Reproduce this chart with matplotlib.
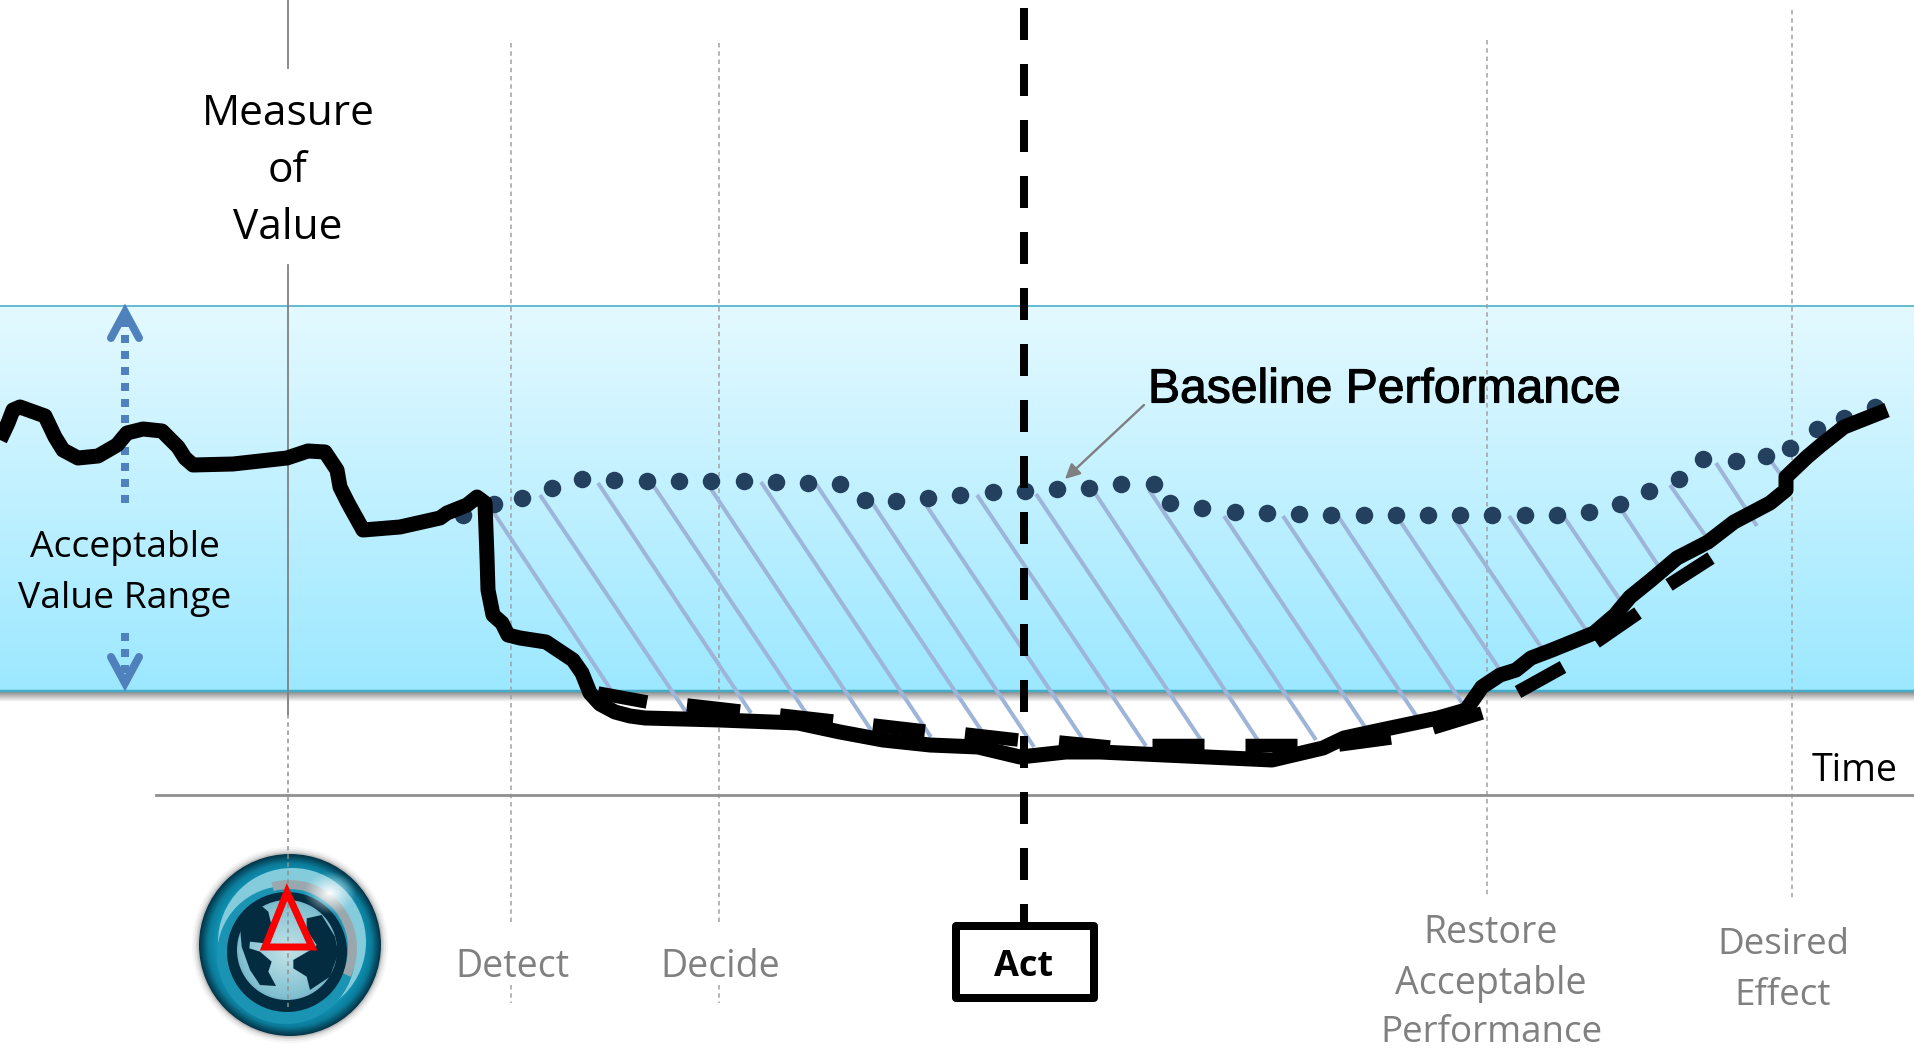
import numpy as np
import matplotlib
matplotlib.use("Agg")
import matplotlib.pyplot as plt
import matplotlib.patheffects as pe
from matplotlib.patches import Circle, Polygon, Rectangle, Wedge

# In the chart's own 1915 x 1050 plotting units
curve_x = [0,8,13,20,45,55,63,78,98,117,127,143,162,178,185,193,233,287,308,325,337,340,348,363,400,440,447,467,477,485,
           487,488,493,502,508,520,546,573,582,590,600,615,630,645,720,798,840,883,930,978,1020,1066,1100,1272,1323,1344,1381,1438,1466,1482,
           1500,1516,1531,1552,1594,1615,1630,1651,1677,1708,1734,1770,1786,1786,1807,1820,1844,1887]
curve_y = [440,423,410,407,416,437,450,458,456,445,433,429,431,447,458,465,464,458,451,452,470,487,503,530,527,518,513,505,497,503,
           557,590,615,623,635,638,642,660,673,693,704,712,716,718,720,723,732,740,745,747,757,752,752,760,748,738,730,718,710,687,
           675,670,658,650,633,615,597,580,558,542,522,503,490,477,457,446,427,410]
base_x = [463,494,522,552,582,614,647,679,711,744,776,808,840,865,896,928,960,993,1025,1057,1089,1121,1154,1170,1202,1235,
          1267,1299,1331,1364,1396,1428,1460,1492,1525,1557,1589,1620,1649,1679,1703,1736,1766,1790,1817,1844,1875]
base_y = [515,504,498,488,479,480,481,481,481,481,482,483,484,500,501,498,495,492,491,489,488,484,484,503,508,512,
          513,514,515,515,515,515,515,515,515,515,512,504,491,479,459,461,456,448,429,418,407]
proj_x0 = [598,687,780,873,965,1059,1152,1245,1339,1433,1518,1596,1669]
proj_y0 = [693,705,715,725,734,742,745,745,745,728,692,642,585]
proj_x1 = [647,740,833,925,1018,1110,1204,1297,1391,1482,1563,1638,1711]
proj_y1 = [702,711,721,731,740,747,745,745,738,713,667,613,558]
gap_x0 = [490,540,598,653,707,761,816,869,922,977,1036,1093,1149,1224,1283,1338,1396,1454,1509,1564,1619,1670,1716,1768]
gap_y0 = [507,495,483,485,483,482,484,498,499,495,494,490,490,516,516,516,515,518,516,517,506,485,463,457]
gap_x1 = [613,686,751,806,871,931,981,1034,1082,1146,1203,1259,1316,1365,1417,1464,1500,1543,1586,1620,1659,1707,1757,1781]
gap_y1 = [693,712,713,713,730,737,730,747,738,746,743,742,740,727,717,706,670,650,630,600,567,538,526,475]
band_top, band_bottom = 306, 691
stage_x = [511, 719, 1487, 1792]
stage_top = [43, 43, 40, 10]
stage_bottom = [925, 925, 895, 900]
axis_x, act_x, time_y = 288, 1024, 795
continent_left = [(335,258),(355,275),(362,305),(375,330),(345,370),(300,365),(298,385),(330,395),(365,425),(355,455),
                  (378,498),(330,495),(300,450),(275,380),(270,320),(290,285)]
continent_right = [(470,295),(515,285),(555,350),(565,400),(540,470),(480,510),(470,470),(430,445),(430,420),(490,385),(500,375),(470,330)]
red_tri = [(287,892),(265,947),(312,947)]

def px(v):
    return v * 0.72

plt.rcParams['font.family'] = ['Open Sans', 'DejaVu Sans']
fig = plt.figure(figsize=(19.15, 10.5), dpi=100)
ax = fig.add_axes([0, 0, 1, 1])
ax.set_xlim(0, 1915)
ax.set_ylim(1050, 0)
ax.axis('off')

# Band with gradient and shadow
grad = np.linspace(0, 1, 256)[:, None, None]
top_c = np.array([0xe4, 0xf9, 0xff]) / 255
bot_c = np.array([0x9c, 0xe8, 0xff]) / 255
ax.imshow(top_c + (bot_c - top_c) * grad, extent=[0, 1915, band_bottom, band_top], aspect='auto', zorder=1)
sh = np.ones((32, 1, 4)); sh[..., :3] = 0.35
sh[..., 3] = np.linspace(0.75, 0, 32)[:, None]
ax.imshow(sh, extent=[0, 1915, band_bottom + 11, band_bottom], aspect='auto', zorder=1)
ax.set_xlim(0, 1915); ax.set_ylim(1050, 0)
ax.plot([0, 1915], [band_top, band_top], color='#45acc8', lw=px(1.6), zorder=2)
ax.plot([0, 1915], [band_bottom, band_bottom], color='#45acc8', lw=px(2.5), zorder=2)

# Stage guides
for x, t_, b in zip(stage_x, stage_top, stage_bottom):
    ax.plot([x, x], [t_, b], color='#a0a0a0', lw=px(1.5), ls=(0, (3, 2.5)), zorder=3)
for x in stage_x[:2]:
    ax.plot([x, x], [985, 1003], color='#a0a0a0', lw=px(1.5), ls=(0, (3, 2.5)), zorder=3)
ax.plot([axis_x, axis_x], [0, 68], color='#808080', lw=px(1.8), zorder=3)
ax.plot([axis_x, axis_x], [265, 714], color='#808080', lw=px(1.8), zorder=3)
ax.plot([156, 1915], [time_y, time_y], color='#8f8f8f', lw=px(2.8), zorder=3)

# Gap hatch
for a, b, c, d in zip(gap_x0, gap_y0, gap_x1, gap_y1):
    ax.plot([a, c], [b, d], color='#9db5d8', lw=px(4), solid_capstyle='butt', zorder=4)

# Baseline dots
ax.plot(base_x, base_y, ls='none', marker='o', ms=px(17.5), mfc='#24405f', mec='none', zorder=5)

# Projected recovery
for a, b, c, d in zip(proj_x0, proj_y0, proj_x1, proj_y1):
    ax.plot([a, c], [b, d], color='black', lw=px(13.5), solid_capstyle='butt', zorder=6)

# Measured value
ax.plot(curve_x, curve_y, color='black', lw=px(15), solid_joinstyle='round', solid_capstyle='butt', zorder=7)

# Act line and box
ax.plot([act_x, act_x], [8, 925], color='black', lw=px(8), dashes=(4, 3), dash_capstyle='butt', zorder=8)
ax.add_patch(Rectangle((956, 926), 138, 72, fc='white', ec='black', lw=px(8), joinstyle='round', zorder=9))

# Range arrows
ac = '#4f81bd'
ax.plot([125, 125], [503, 320], color=ac, lw=px(8), ls=(0, (1, 1)), dash_capstyle='butt', zorder=4)
ax.plot([125, 125], [633, 675], color=ac, lw=px(8), ls=(0, (1, 1)), dash_capstyle='butt', zorder=4)
ax.plot([111, 125, 139], [338, 312, 338], color=ac, lw=px(8), solid_capstyle='round', solid_joinstyle='miter', zorder=4)
ax.plot([111, 125, 139], [657, 683, 657], color=ac, lw=px(8), solid_capstyle='round', solid_joinstyle='miter', zorder=4)

# Callout arrow
ax.annotate('', xy=(1065, 479), xytext=(1144, 405),
            arrowprops=dict(arrowstyle='-|>', color='#808080', lw=px(2.4), mutation_scale=22, shrinkA=0, shrinkB=0), zorder=5)

# Globe icon
cx, cy, R = 290, 945, 91
for k, a in [(7, 0.05), (5, 0.08), (3, 0.12), (1.5, 0.2)]:
    ax.add_patch(Circle((cx, cy), R + k, fc='#555555', ec='none', alpha=a, zorder=2.8))
yy, xx = np.mgrid[cy - R:cy + R:400j, cx - R:cx + R:400j]
rr = np.hypot(xx - cx, yy - cy) / R
stops_r = [0, 0.6, 0.80, 0.90, 0.97, 1.0]
c0 = np.array([[0x1a,0x8f,0xaf],[0x1a,0x8f,0xaf],[0x0f,0x94,0xb6],[0x0c,0x7c,0x9a],[0x05,0x48,0x5e],[0x03,0x34,0x48]]) / 255
img = np.stack([np.interp(rr, stops_r, c0[:, i]) for i in range(3)], axis=-1)
im = ax.imshow(img, extent=[cx - R, cx + R, cy + R, cy - R], aspect='auto', zorder=3)
im.set_clip_path(Circle((cx, cy), R, transform=ax.transData))
ax.add_patch(Circle((cx + 2, cy - 3), 74, fc='#84cbdc', ec='none', zorder=3.1))
ax.add_patch(Circle((cx - 4, cy + 10), 69, fc='#1b94b4', ec='none', zorder=3.12))
ax.add_patch(Wedge((cx - 1, cy + 3), 68, 255, 385, width=9, fc='#9aa8ae', ec='none', zorder=3.15))
ax.add_patch(Circle((cx - 3, cy + 7), 60, fc='#032c40', ec='none', zorder=3.2))
ax.add_patch(Circle((cx - 3, cy + 5), 50, fc='#79b9cb', ec='none', zorder=3.3))
gl = np.hypot(xx - (cx - 3), yy - (cy + 5)) / 48
gc0 = np.array([0xc4, 0xe4, 0xe8]) / 255
gc1 = np.array([0x7f, 0xbf, 0xd0]) / 255
gimg = gc0 + (gc1 - gc0) * np.clip(gl, 0, 1)[..., None]
gi = ax.imshow(gimg, extent=[cx - R, cx + R, cy + R, cy - R], aspect='auto', zorder=3.32)
gi.set_clip_path(Circle((cx - 3, cy + 5), 48, transform=ax.transData))
hl = np.ones((200, 200, 4))
hy, hx = np.mgrid[-1:1:200j, -1:1:200j]
hl[..., 3] = np.clip(1 - np.hypot(hx, hy), 0, 1) ** 1.2
ax.imshow(hl, extent=[303, 357, 915, 871], aspect='auto', zorder=3.35)
for c in (continent_left, continent_right):
    ax.add_patch(Polygon([(p / 3 + 150, q / 3 + 820) for p, q in c], closed=True, fc='#032c40', ec='none', zorder=3.4))
ax.set_xlim(0, 1915); ax.set_ylim(1050, 0)
ax.plot([axis_x, axis_x], [714, 1007], color='#909090', lw=px(1.5), ls=(0, (3, 2.5)), zorder=3.6)
ax.add_patch(Polygon(red_tri, closed=True, fc='none', ec='#fa0000', lw=px(7), joinstyle='miter', zorder=3.7))

# Text
def t(x, y, s, size, color='black', **kw):
    ax.text(x, y, s, fontsize=size, color=color, ha='center', va='center', zorder=10, **kw)

t(288, 114, 'Measure', 30.5)
t(288, 171, 'of', 30.5)
t(288, 228, 'Value', 30.5)
t(125, 548, 'Acceptable', 26.8)
t(125, 599, 'Value Range', 26.8)
bp = ax.text(1148, 390, 'Baseline Performance', fontsize=34.6, family='Liberation Sans', color='black',
             ha='left', va='center', zorder=10)
bp.set_path_effects([pe.withStroke(linewidth=0.8, foreground='black')])
t(1855, 771, 'Time', 27)
g = '#808080'
t(512, 967, 'Detect', 27, g)
t(720, 967, 'Decide', 27, g)
t(1024, 967, 'Act', 26, 'black', fontweight='bold')
t(1491, 933, 'Restore', 27, g)
t(1491, 984, 'Acceptable', 27, g)
t(1491, 1033, 'Performance', 26.5, g)
t(1783, 945, 'Desired', 26.5, g)
t(1783, 996, 'Effect', 26.5, g)

fig.savefig('out.png', dpi=100)
